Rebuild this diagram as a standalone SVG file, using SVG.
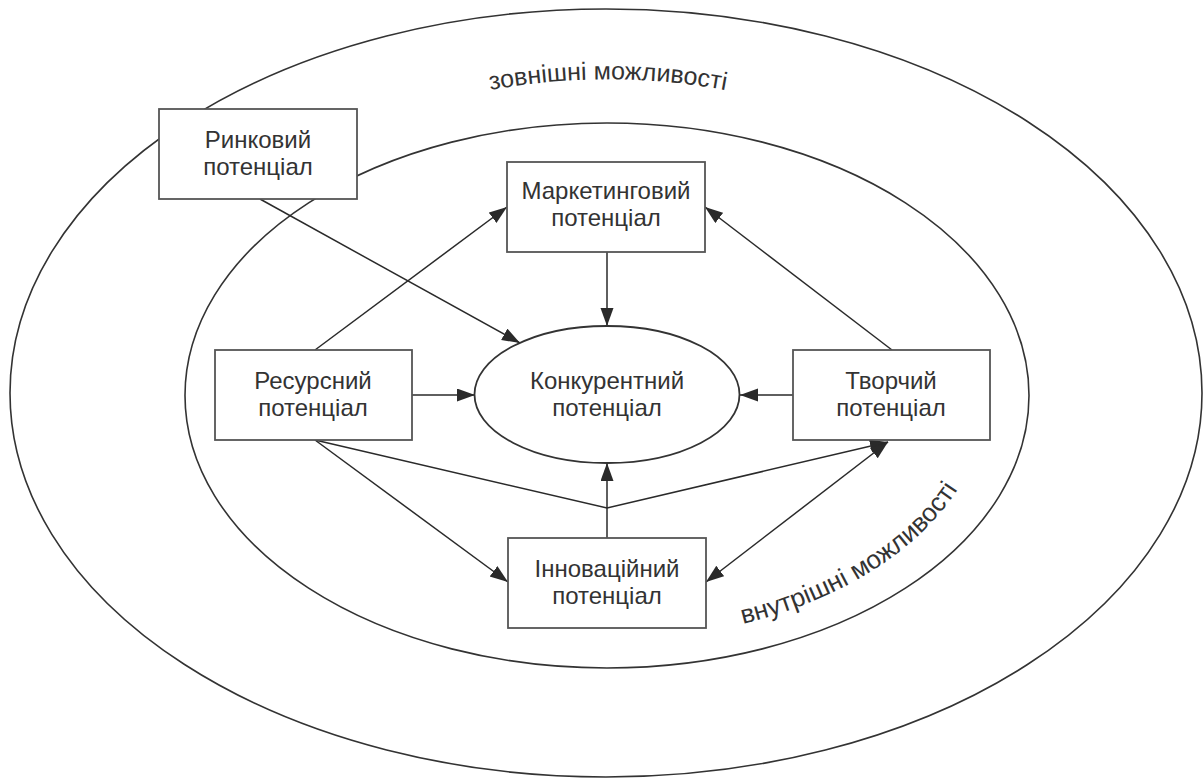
<svg xmlns="http://www.w3.org/2000/svg" width="1203" height="778" viewBox="0 0 1203 778">
<style>
  .ring{fill:none;stroke:#333;stroke-width:1.6}
  .box{fill:#fff;stroke:#555;stroke-width:1.8}
  .lbl{font-family:"Liberation Sans",Arial,sans-serif;font-size:24px;fill:#333;text-anchor:middle}
  .arc{font-family:"Liberation Sans",Arial,sans-serif;font-size:25px;fill:#333}
  .arc2{font-family:"Liberation Sans",Arial,sans-serif;font-size:26px;fill:#333}
  .con{fill:none;stroke:#2a2a2a;stroke-width:1.5}
</style>
<defs>
  <marker id="ah" markerUnits="userSpaceOnUse" markerWidth="20" markerHeight="14" refX="18" refY="6.5" orient="auto-start-reverse">
    <path d="M0,0 L18,6.5 L0,13 z" fill="#2a2a2a"/>
  </marker>
  <path id="outerArc" d="M 438 102 A 650 650 0 0 1 778 102"/>
  <path id="innerArc" d="M 743 624 A 380 245 0 0 0 987 395"/>
</defs>
<g id="outer-ring">
  <ellipse class="ring" cx="606" cy="393" rx="596" ry="384"/>
  <text class="arc"><textPath href="#outerArc" startOffset="50%" text-anchor="middle">зовнішні можливості</textPath></text>
</g>
<g id="inner-ring">
  <ellipse class="ring" cx="607" cy="395.5" rx="422" ry="272.5"/>
  <text class="arc2"><textPath href="#innerArc" startOffset="0">внутрішні можливості</textPath></text>
</g>
<g id="connectors">
  <line class="con" x1="260" y1="199" x2="520" y2="343" marker-end="url(#ah)"/>
  <line class="con" x1="315" y1="350" x2="507" y2="207" marker-end="url(#ah)"/>
  <line class="con" x1="892" y1="350" x2="705" y2="207" marker-end="url(#ah)"/>
  <line class="con" x1="607" y1="252" x2="607" y2="326" marker-end="url(#ah)"/>
  <line class="con" x1="412" y1="395" x2="475" y2="395" marker-end="url(#ah)"/>
  <line class="con" x1="793" y1="395" x2="740" y2="395" marker-end="url(#ah)"/>
  <line class="con" x1="315" y1="440" x2="508" y2="582" marker-end="url(#ah)"/>
  <polyline class="con" points="315,440 607,508 888,442" marker-end="url(#ah)"/>
  <line class="con" x1="607" y1="538" x2="607" y2="463" marker-end="url(#ah)"/>
  <line class="con" x1="706" y1="582" x2="888" y2="442" marker-start="url(#ah)" marker-end="url(#ah)"/>
</g>
<g id="node-rynkovyi">
  <rect class="box" x="159" y="109" width="198" height="90"/>
  <text class="lbl" x="258" y="148">Ринковий</text>
  <text class="lbl" x="258" y="175">потенціал</text>
</g>
<g id="node-marketynhovyi">
  <rect class="box" x="507" y="162" width="198" height="90"/>
  <text class="lbl" x="606" y="199">Маркетинговий</text>
  <text class="lbl" x="606" y="226">потенціал</text>
</g>
<g id="node-resursnyi">
  <rect class="box" x="215" y="350" width="197" height="90"/>
  <text class="lbl" x="313" y="389">Ресурсний</text>
  <text class="lbl" x="313" y="416">потенціал</text>
</g>
<g id="node-konkurentnyi">
  <ellipse class="box" cx="607" cy="394.5" rx="132.5" ry="68.5" style="stroke:#333"/>
  <text class="lbl" x="607" y="389">Конкурентний</text>
  <text class="lbl" x="607" y="416">потенціал</text>
</g>
<g id="node-tvorchyi">
  <rect class="box" x="793" y="350" width="197" height="90"/>
  <text class="lbl" x="891" y="389">Творчий</text>
  <text class="lbl" x="891" y="416">потенціал</text>
</g>
<g id="node-innovatsiinyi">
  <rect class="box" x="508" y="538" width="198" height="90"/>
  <text class="lbl" x="607" y="577">Інноваційний</text>
  <text class="lbl" x="607" y="604">потенціал</text>
</g>
</svg>
